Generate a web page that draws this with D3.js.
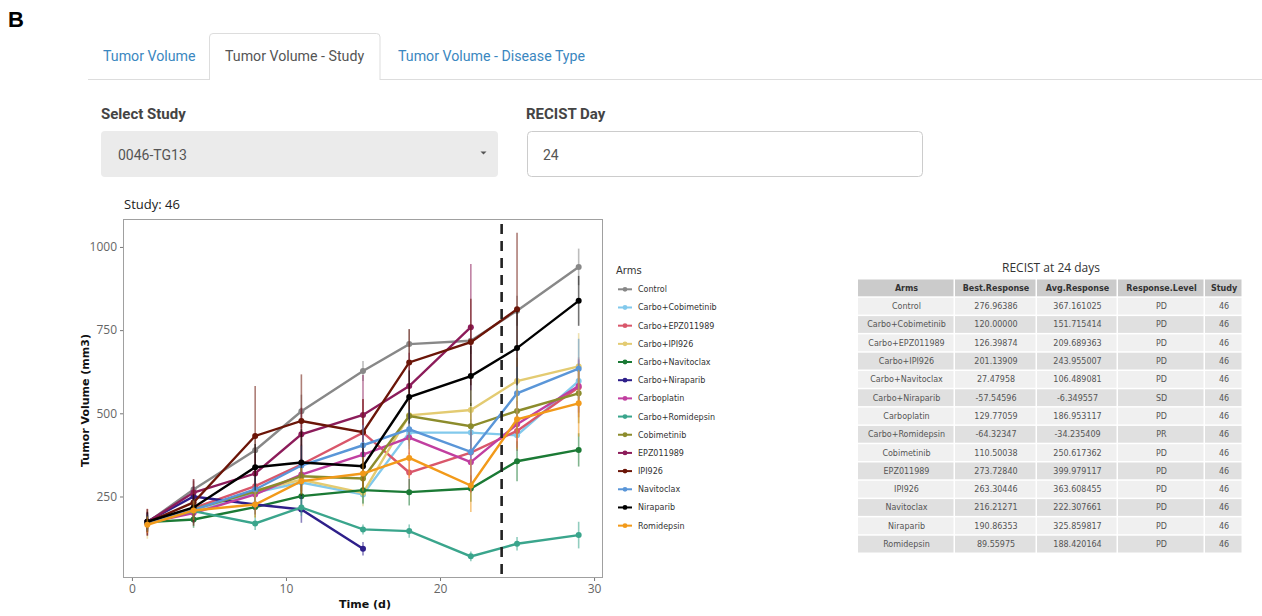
<!DOCTYPE html>
<html>
<head>
<meta charset="utf-8">
<script src="https://cdn.jsdelivr.net/npm/d3@7"></script>
<style>
  body { margin: 0; background: #fff; }
  svg { display: block; }
</style>
</head>
<body>
<div id="chart"></div>
<script>
// Dagar för mätningar
const days = [1, 4, 8, 11, 15, 18, 22, 25, 29];

// Medelvärden per arm (mm3)
const control          = [172, 271, 389, 506, 627, 708, 718, 808, 940];
const carboCobimetinib = [170, 205, 262, 292, 256, 442, 442, 434, 597];
const carboEpz         = [174, 215, 281, 346, 442, 322, 382, 447, 578];
const carboIpi         = [168, 210, 268, 300, 261, 494, 510, 597, 641];
const carboNavitoclax  = [173, 181, 218, 251, 269, 263, 274, 356, 390];
const carboNiraparib   = [175, 250, 226, 211, 93];
const carboplatin      = [171, 200, 256, 316, 376, 427, 353, 467, 582];
const carboRomidepsin  = [172, 206, 169, 217, 151, 146, 70, 108, 134];
const cobimetinib      = [170, 212, 265, 311, 304, 492, 461, 507, 560];
const epz011989        = [173, 262, 319, 437, 495, 582, 759];
const ipi926           = [172, 232, 432, 477, 443, 653, 714, 813];
const navitoclax       = [171, 210, 271, 343, 404, 452, 384, 560, 634];
const niraparib        = [174, 217, 338, 352, 341, 549, 612, 696, 838];
const romidepsin       = [165, 208, 226, 296, 319, 366, 283, 482, 530];

// Felstaplar (halva längden)
const controlErr          = [20, 25, 50, 50, 30, 45, 40, 45, 55];
const carboCobimetinibErr = [25, 25, 40, 40, 30, 40, 40, 40, 60];
const carboEpzErr         = [30, 30, 45, 60, 100, 60, 120, 60, 90];
const carboIpiErr         = [45, 40, 40, 50, 40, 60, 60, 70, 100];
const carboNavitoclaxErr  = [20, 25, 30, 35, 40, 40, 40, 60, 50];
const carboNiraparibErr   = [25, 30, 30, 40, 20];
const carboplatinErr      = [30, 30, 40, 50, 60, 50, 90, 70, 80];
const carboRomidepsinErr  = [20, 20, 20, 25, 15, 20, 15, 20, 40];
const cobimetinibErr      = [25, 30, 40, 50, 40, 80, 70, 80, 90];
const epz011989Err        = [40, 40, 60, 80, 120, 100, 190];
const ipi926Err           = [40, 70, 150, 140, 100, 100, 130, 230];
const navitoclaxErr       = [25, 30, 40, 60, 60, 60, 70, 80, 90];
const niraparibErr        = [30, 40, 70, 100, 70, 80, 90, 110, 75];
const romidepsinErr       = [25, 30, 40, 40, 50, 60, 80, 90, 100];

const arms = ["Control", "Carbo+Cobimetinib", "Carbo+EPZ011989", "Carbo+IPI926",
  "Carbo+Navitoclax", "Carbo+Niraparib", "Carboplatin", "Carbo+Romidepsin",
  "Cobimetinib", "EPZ011989", "IPI926", "Navitoclax", "Niraparib", "Romidepsin"];
const armColors = ["#888888", "#82c9ec", "#d9576b", "#e3cb72", "#1b7a35", "#2e1f8a",
  "#c13fa0", "#3aa58c", "#8c8c2c", "#8c1c5a", "#6b1508", "#5a96d8", "#000000", "#f29a1a"];
const armValues = [control, carboCobimetinib, carboEpz, carboIpi, carboNavitoclax,
  carboNiraparib, carboplatin, carboRomidepsin, cobimetinib, epz011989, ipi926,
  navitoclax, niraparib, romidepsin];
const armErrors = [controlErr, carboCobimetinibErr, carboEpzErr, carboIpiErr,
  carboNavitoclaxErr, carboNiraparibErr, carboplatinErr, carboRomidepsinErr,
  cobimetinibErr, epz011989Err, ipi926Err, navitoclaxErr, niraparibErr, romidepsinErr];

const recistDay = 24;
const yTicks = [250, 500, 750, 1000];
const xTicks = [0, 10, 20, 30];

// Tabell
const tableColumns = ["Arms", "Best.Response", "Avg.Response", "Response.Level", "Study"];
const bestResponse = ["276.96386", "120.00000", "126.39874", "201.13909", "27.47958",
  "-57.54596", "129.77059", "-64.32347", "110.50038", "273.72840", "263.30446",
  "216.21271", "190.86353", "89.55975"];
const avgResponse = ["367.161025", "151.715414", "209.689363", "243.955007", "106.489081",
  "-6.349557", "186.953117", "-34.235409", "250.617362", "399.979117", "363.608455",
  "222.307661", "325.859817", "188.420164"];
const responseLevel = ["PD", "PD", "PD", "PD", "PD", "SD", "PD", "PR", "PD", "PD", "PD", "PD", "PD", "PD"];
const study = ["46", "46", "46", "46", "46", "46", "46", "46", "46", "46", "46", "46", "46", "46"];

const series = arms.map((a, i) => ({
  arm: a, color: armColors[i],
  points: armValues[i].map((v, j) => ({ day: days[j], value: v, err: armErrors[i][j] }))
}));

const W = 1262, H = 616;
const svg = d3.select("#chart").append("svg").attr("width", W).attr("height", H);

// ---- Panelbokstav och flikar ----
svg.append("text").attr("x", 8).attr("y", 27)
  .style("font-family", "Liberation Sans, Arial").style("font-weight", "bold")
  .style("font-size", "22px").text("B");

svg.append("line").attr("x1", 88).attr("x2", 1262).attr("y1", 79.5).attr("y2", 79.5)
  .attr("stroke", "#dddddd");
svg.append("path")
  .attr("d", "M209.5,80 V37 Q209.5,33.5 213,33.5 H376.5 Q380,33.5 380,37 V80")
  .attr("fill", "#fff").attr("stroke", "#dddddd");

const tabs = [
  { t: "Tumor Volume", x: 103, c: "#3a87c0" },
  { t: "Tumor Volume - Study", x: 225, c: "#555555" },
  { t: "Tumor Volume - Disease Type", x: 398, c: "#3a87c0" }
];
svg.selectAll(".tab").data(tabs).enter().append("text")
  .attr("x", d => d.x).attr("y", 61)
  .style("font-family", "Roboto").style("font-size", "14.2px")
  .attr("fill", d => d.c).text(d => d.t);

// ---- Kontroller ----
svg.append("text").attr("x", 101).attr("y", 119)
  .style("font-family", "Roboto").style("font-weight", "bold").style("font-size", "15px")
  .attr("fill", "#444").text("Select Study");
svg.append("rect").attr("x", 101).attr("y", 131).attr("width", 397).attr("height", 46)
  .attr("rx", 4).attr("fill", "#ebebeb");
svg.append("text").attr("x", 118).attr("y", 160)
  .style("font-family", "Roboto").style("font-size", "14px")
  .attr("fill", "#555").text("0046-TG13");
svg.append("path").attr("d", "M480.5,151.5 h6 l-3,3 z").attr("fill", "#555");

svg.append("text").attr("x", 526).attr("y", 119)
  .style("font-family", "Roboto").style("font-weight", "bold").style("font-size", "15px")
  .attr("fill", "#444").text("RECIST Day");
svg.append("rect").attr("x", 527.5).attr("y", 131.5).attr("width", 395).attr("height", 45)
  .attr("rx", 4).attr("fill", "#fff").attr("stroke", "#cccccc");
svg.append("text").attr("x", 543).attr("y", 160)
  .style("font-family", "Roboto").style("font-size", "14px")
  .attr("fill", "#555").text(recistDay);

// ---- Diagram ----
const plot = { left: 123, right: 603, top: 219, bottom: 578 };
const x = d3.scaleLinear().domain([-0.58, 30.58]).range([plot.left, plot.right]);
const y = d3.scaleLinear().domain([5, 1084]).range([plot.bottom, plot.top]);

svg.append("text").attr("x", 124).attr("y", 209)
  .style("font-family", "Open Sans").style("font-size", "13px")
  .attr("fill", "#222").text("Study: 46");

svg.append("rect").attr("x", plot.left + 0.5).attr("y", plot.top + 0.5)
  .attr("width", plot.right - plot.left - 1).attr("height", plot.bottom - plot.top - 1)
  .attr("fill", "#fff").attr("stroke", "#a0a0a0");

const gx = svg.append("g").attr("transform", `translate(0,${plot.bottom})`)
  .call(d3.axisBottom(x).tickValues(xTicks).tickSize(3).tickSizeOuter(0));
const gy = svg.append("g").attr("transform", `translate(${plot.left},0)`)
  .call(d3.axisLeft(y).tickValues(yTicks).tickFormat(d3.format("d")).tickSize(3).tickSizeOuter(0));
[gx, gy].forEach(g => {
  g.select(".domain").remove();
  g.selectAll(".tick line").attr("stroke", "#777");
  g.selectAll(".tick text").attr("fill", "#666")
    .style("font-family", "Open Sans").style("font-size", "12px");
});

svg.append("text").attr("x", (plot.left + plot.right) / 2 + 2).attr("y", 608)
  .attr("text-anchor", "middle")
  .style("font-family", "DejaVu Sans").style("font-weight", "bold").style("font-size", "11px")
  .attr("fill", "#111").text("Time (d)");
svg.append("text")
  .attr("transform", `translate(89,${(plot.top + plot.bottom) / 2 + 2}) rotate(-90)`)
  .attr("text-anchor", "middle")
  .style("font-family", "DejaVu Sans").style("font-weight", "bold").style("font-size", "11px")
  .attr("fill", "#111").text("Tumor Volume (mm3)");

const line = d3.line().x(d => x(d.day)).y(d => y(d.value));

const gs = svg.selectAll(".arm").data(series).enter().append("g").attr("class", "arm");
gs.selectAll(".err").data(d => d.points.map(p => ({ ...p, color: d.color }))).enter()
  .append("line")
  .attr("x1", d => x(d.day)).attr("x2", d => x(d.day))
  .attr("y1", d => y(d.value - d.err)).attr("y2", d => y(d.value + d.err))
  .attr("stroke", d => d.color).attr("stroke-width", 1.6).attr("opacity", 0.55);
gs.append("path").attr("d", d => line(d.points))
  .attr("fill", "none").attr("stroke", d => d.color).attr("stroke-width", 2.4);
gs.selectAll(".pt").data(d => d.points.map(p => ({ ...p, color: d.color }))).enter()
  .append("circle")
  .attr("cx", d => x(d.day)).attr("cy", d => y(d.value)).attr("r", 3)
  .attr("fill", d => d.color);

svg.append("line").attr("x1", x(recistDay)).attr("x2", x(recistDay))
  .attr("y1", plot.top + 5).attr("y2", plot.bottom)
  .attr("stroke", "#222").attr("stroke-width", 2.6).attr("stroke-dasharray", "10,7");

// ---- Legend ----
svg.append("text").attr("x", 616).attr("y", 274)
  .style("font-family", "DejaVu Sans").style("font-size", "10px")
  .attr("fill", "#333").text("Arms");
const lg = svg.selectAll(".leg").data(series).enter().append("g")
  .attr("transform", (d, i) => `translate(0,${289.3 + i * 18.18})`);
lg.append("line").attr("x1", 618).attr("x2", 632)
  .attr("stroke", d => d.color).attr("stroke-width", 2);
lg.append("circle").attr("cx", 625).attr("r", 2.4).attr("fill", d => d.color);
lg.append("text").attr("x", 638).attr("y", 3)
  .style("font-family", "DejaVu Sans").style("font-size", "8px")
  .attr("fill", "#333").text(d => d.arm);

// ---- RECIST-tabell ----
svg.append("text").attr("x", 1051).attr("y", 272).attr("text-anchor", "middle")
  .style("font-family", "Open Sans").style("font-size", "12px")
  .attr("fill", "#333").text(`RECIST at ${recistDay} days`);

const colEdges = [858, 955, 1037, 1118, 1205, 1243];
const rowTop = 279.5, rowH = 18.3;
const rows = arms.map((a, i) => [a, bestResponse[i], avgResponse[i], responseLevel[i], study[i]]);
const allRows = [tableColumns].concat(rows);

allRows.forEach((r, ri) => {
  const fill = ri === 0 ? "#cbcbcb" : (ri % 2 === 1 ? "#f0f0f0" : "#e0e0e0");
  r.forEach((cell, ci) => {
    const x0 = colEdges[ci], x1 = colEdges[ci + 1];
    const y0 = rowTop + ri * rowH;
    svg.append("rect").attr("x", x0).attr("y", y0)
      .attr("width", x1 - x0 - 1.5).attr("height", rowH - 1.5).attr("fill", fill);
    svg.append("text").attr("x", (x0 + x1) / 2).attr("y", y0 + rowH / 2 + 2.2)
      .attr("text-anchor", "middle")
      .style("font-family", "DejaVu Sans").style("font-size", "8px")
      .style("font-weight", ri === 0 ? "bold" : "normal")
      .attr("fill", ri === 0 ? "#333" : "#555").text(cell);
  });
});
</script>
</body>
</html>
